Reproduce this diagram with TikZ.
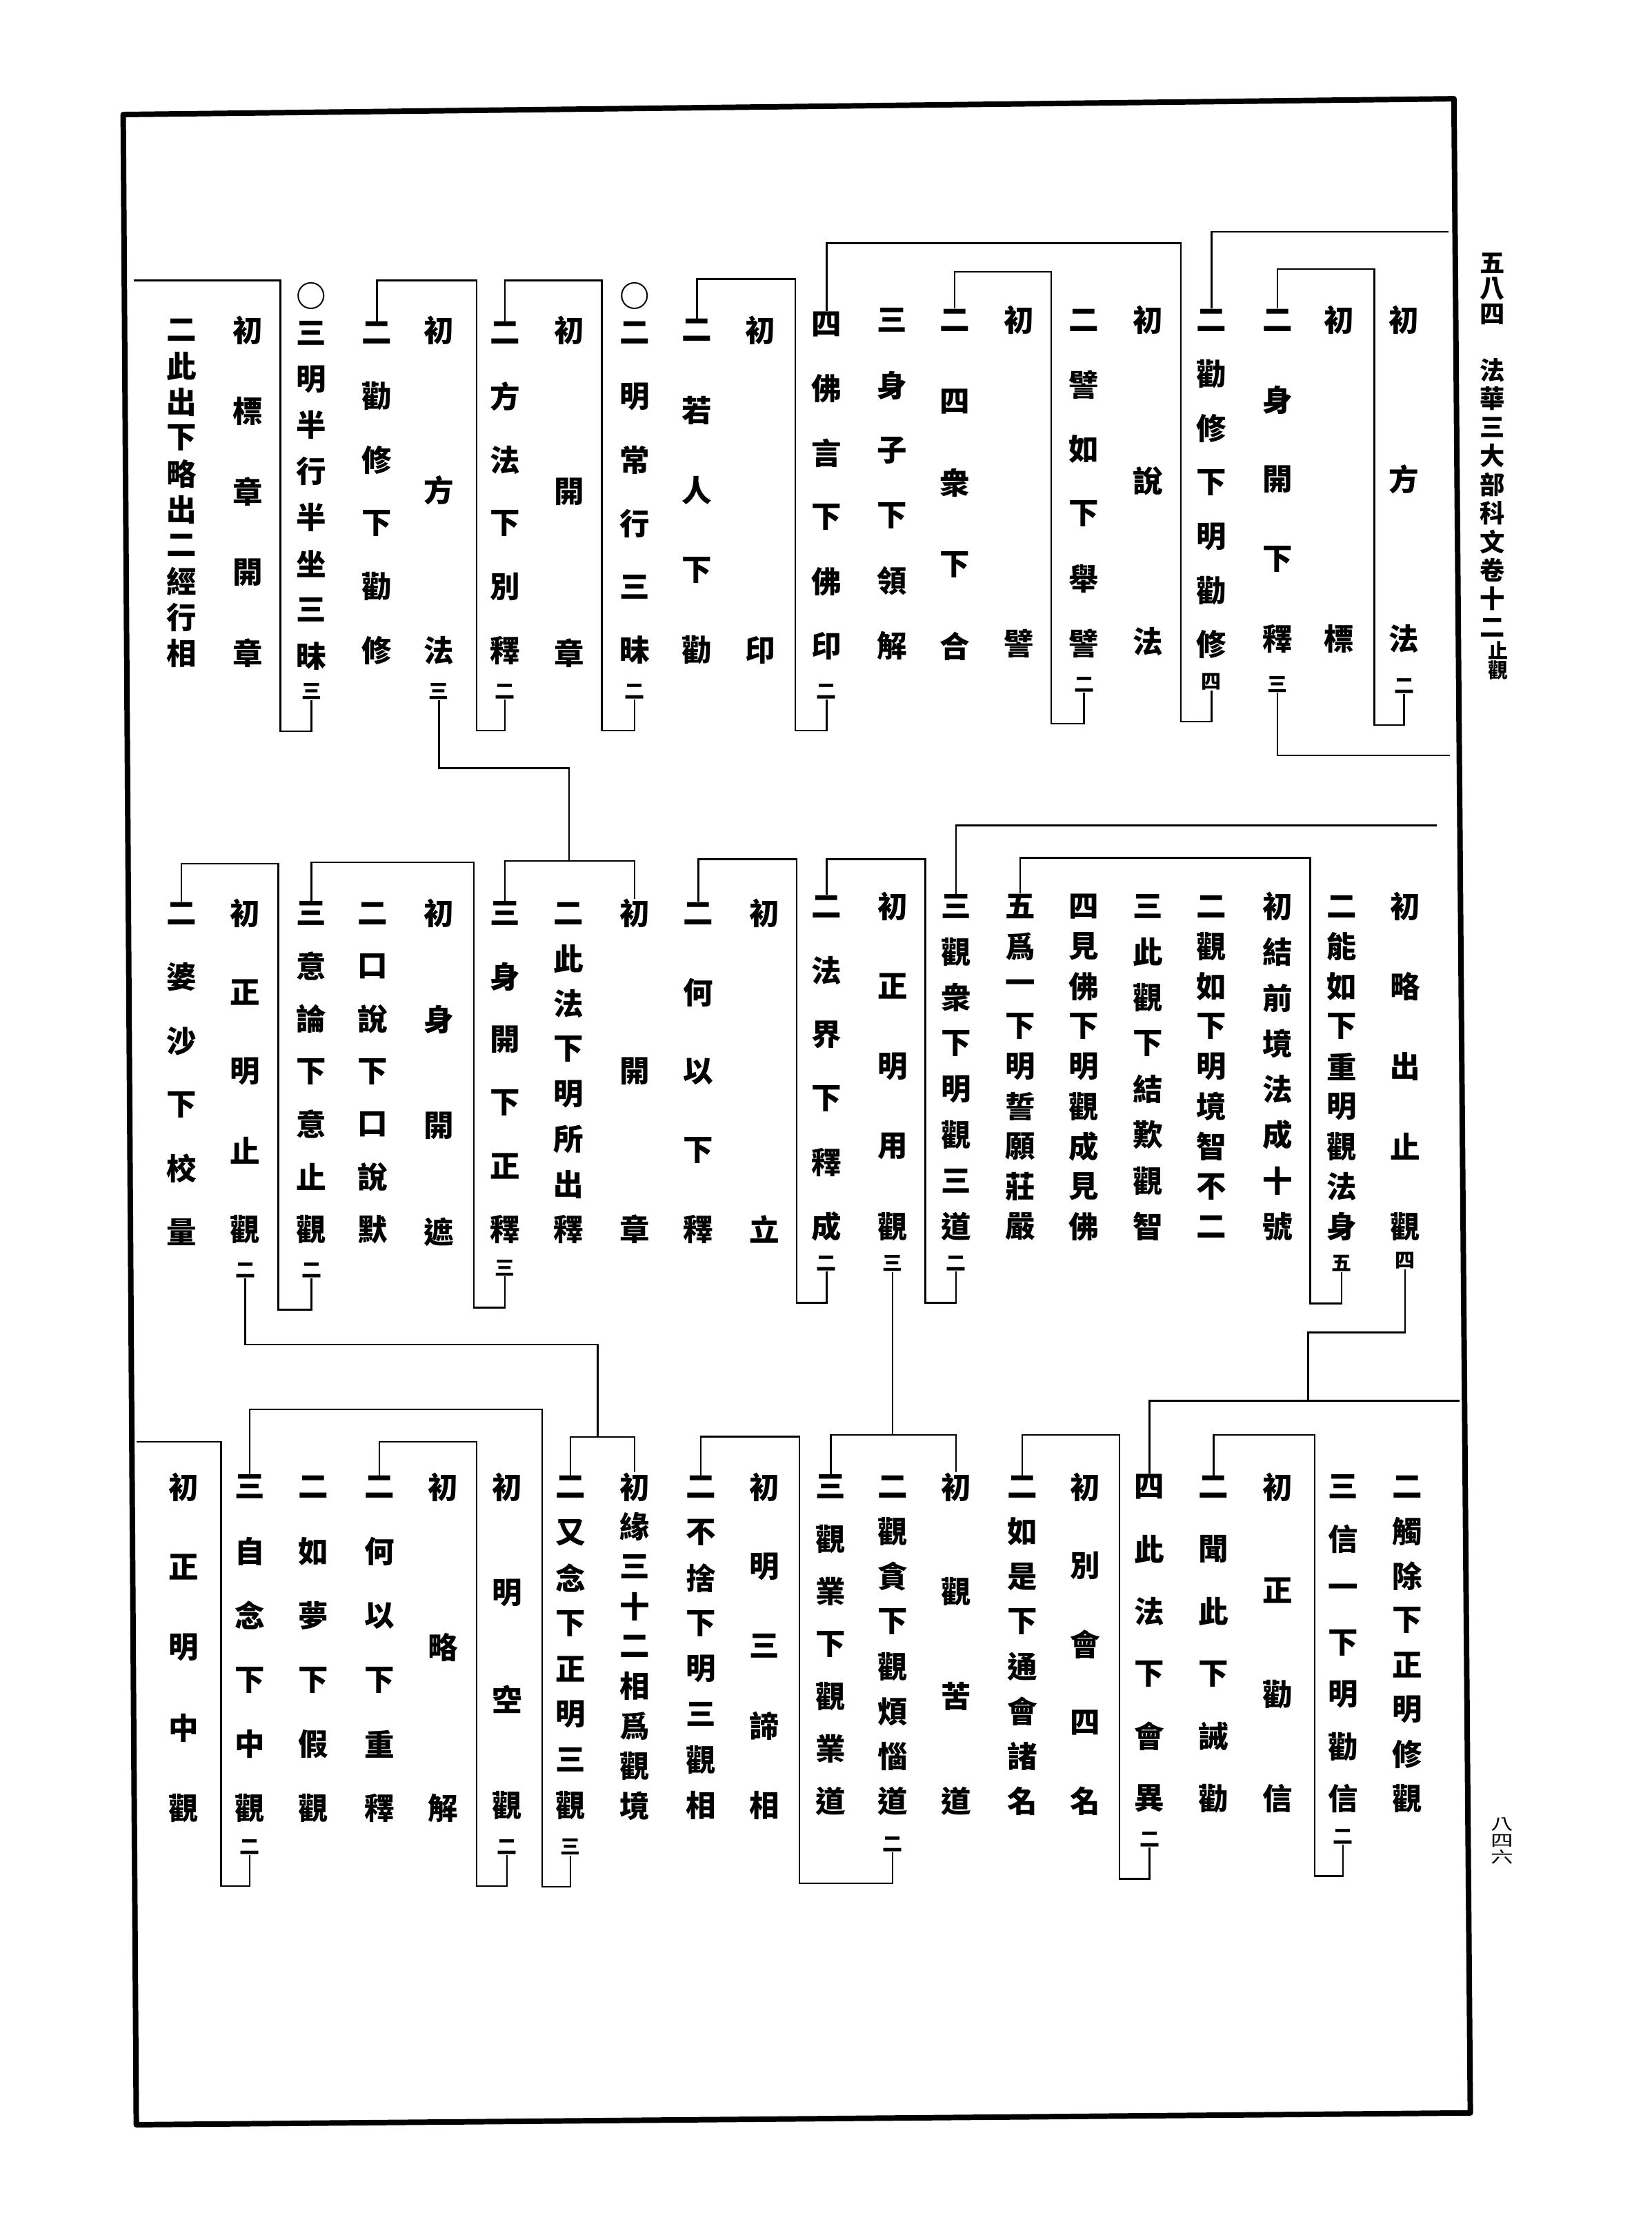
\documentclass[tikz,border=0pt]{standalone}
\usepackage{fontspec}
\newfontfamily\cjk{Noto Sans CJK TC}

\tikzset{
  kchar/.style={inner sep=0pt, font=\cjk\bfseries\fontsize{12}{12}\selectfont},
  ksuf/.style={inner sep=0pt, font=\cjk\bfseries\fontsize{8}{8}\selectfont},
  khead/.style={inner sep=0pt, font=\cjk\bfseries\fontsize{10}{10}\selectfont},
  khsmall/.style={inner sep=0pt, font=\cjk\bfseries\fontsize{8}{8}\selectfont},
  kpage/.style={inner sep=0pt, font=\cjk\fontsize{9}{9}\selectfont},
  kline/.style={line width=0.7pt},
  kframe/.style={line width=2.2pt, line join=round},
}

% one vertical column: [style]{name}{x}{top y}{bottom y}{chars}
\newcommand\kcol[6][kchar]{%
  \foreach \kc [count=\ki] in {#6} {\xdef\kn{\ki}}%
  \foreach \kc [count=\ki] in {#6} {%
    \pgfmathsetmacro\ky{#4+(#5-#4)*(\ki-1)/(\kn-1)}%
    \node[#1] (#2-\ki) at (#3,\ky) {\kc};%
  }%
}

\begin{document}
\begin{tikzpicture}[x=0.02cm,y=-0.02cm]
\useasboundingbox (0,0) rectangle (1161,1568);

% frame
\draw[kframe] (86.6,80.5) -- (1022,69.4) -- (1033.5,1485) -- (95.8,1493.3) -- cycle;

% header and page number
\kcol[khead]{h}{1049}{185}{221}{五,八,四}
\kcol[khead]{t}{1049}{260}{441}{法,華,三,大,部,科,文,卷,十,二}
\kcol[khsmall]{u}{1053}{457}{471}{止,觀}
\node[kpage] (p1) at (1056,1282) {\scalebox{1}[0.7]{八}};
\node[kpage] (p2) at (1056,1294) {\scalebox{1}[0.7]{四}};
\node[kpage] (p3) at (1056,1305) {\scalebox{1}[0.7]{六}};

% top band
\kcol{a1}{987}{225}{449}{初,方,法}
\node[ksuf] (a1n) at (987,482) {二};
\kcol{a2}{941}{225}{449}{初,標}
\kcol{a3}{898}{225}{449}{二,身,開,下,釋}
\node[ksuf] (a3n) at (898,481) {三};
\kcol{a4}{851.5}{225}{453}{二,勸,修,下,明,勸,修}
\node[ksuf] (a4n) at (851.5,479) {四};
\kcol{a5}{807}{225}{451}{初,說,法}
\kcol{a6}{762}{225}{452}{二,譬,如,下,舉,譬}
\node[ksuf] (a6n) at (762,481) {二};
\kcol{a7}{716}{225}{452}{初,譬}
\kcol{a8}{671}{225}{454}{二,四,衆,下,合}
\kcol{a9}{627}{225}{454}{三,身,子,下,領,解}
\kcol{a10}{581}{228}{454}{四,佛,言,下,佛,印}
\node[ksuf] (a10n) at (581,486) {二};
\kcol{a11}{534.5}{232}{457}{初,印}
\kcol{a12}{490}{232}{457}{二,若,人,下,勸}
\node[kchar] (a13o) at (446,208) {○};
\kcol{a13}{446}{234}{457}{二,明,常,行,三,昧}
\node[ksuf] (a13n) at (446,486) {二};
\kcol{a14}{400}{232}{459}{初,開,章}
\kcol{a15}{355}{234}{457}{二,方,法,下,別,釋}
\node[ksuf] (a15n) at (355,486) {二};
\kcol{a16}{308.5}{232}{457}{初,方,法}
\node[ksuf] (a16n) at (308.5,486) {三};
\kcol{a17}{265}{234}{457}{二,勸,修,下,勸,修}
\node[kchar] (a18o) at (219,208) {○};
\kcol{a18}{219}{234}{461}{三,明,半,行,半,坐,三,昧}
\node[ksuf] (a18n) at (219,486) {三};
\kcol{a19}{174}{232}{459}{初,標,章,開,章}
\kcol{a20}{127.5}{232}{459}{二,此,出,下,略,出,二,經,行,相}

% middle band
\kcol{b1}{987.6}{637}{862}{初,略,出,止,觀}
\node[ksuf] (b1n) at (987.6,886) {四};
\kcol{b2}{943}{637}{862}{二,能,如,下,重,明,觀,法,身}
\node[ksuf] (b2n) at (943,888) {五};
\kcol{b3}{898}{637}{862}{初,結,前,境,法,成,十,號}
\kcol{b4}{851.5}{637}{862}{二,觀,如,下,明,境,智,不,二}
\kcol{b5}{807}{637}{862}{三,此,觀,下,結,歎,觀,智}
\kcol{b6}{762}{637}{862}{四,見,佛,下,明,觀,成,見,佛}
\kcol{b7}{717}{637}{862}{五,爲,一,下,明,誓,願,莊,嚴}
\kcol{b8}{672}{637}{862}{三,觀,衆,下,明,觀,三,道}
\node[ksuf] (b8n) at (672,888) {二};
\kcol{b9}{627.3}{637}{862}{初,正,明,用,觀}
\node[ksuf] (b9n) at (627.3,888) {三};
\kcol{b10}{581}{637}{862}{二,法,界,下,釋,成}
\node[ksuf] (b10n) at (581,888) {二};
\kcol{b11}{537.4}{642}{864}{初,立}
\kcol{b12}{491}{642}{864}{二,何,以,下,釋}
\kcol{b13}{446}{642}{864}{初,開,章}
\kcol{b14}{399.7}{642}{864}{二,此,法,下,明,所,出,釋}
\kcol{b15}{355}{642}{864}{三,身,開,下,正,釋}
\node[ksuf] (b15n) at (355,891) {三};
\kcol{b16}{308.5}{642}{866}{初,身,開,遮}
\kcol{b17}{262}{642}{864}{二,口,說,下,口,說,默}
\kcol{b18}{219}{642}{864}{三,意,論,下,意,止,觀}
\node[ksuf] (b18n) at (219,893) {二};
\kcol{b19}{172.4}{642}{864}{初,正,明,止,觀}
\node[ksuf] (b19n) at (172.4,893) {二};
\kcol{b20}{127.5}{642}{866}{二,婆,沙,下,校,量}

% bottom band
\kcol{c1}{989}{1045}{1264}{二,觸,除,下,正,明,修,觀}
\kcol{c2}{944}{1045}{1264}{三,信,一,下,明,勸,信}
\node[ksuf] (c2n) at (944,1291) {二};
\kcol{c3}{898}{1045}{1264}{初,正,勸,信}
\kcol{c4}{853}{1045}{1264}{二,聞,此,下,誡,勸}
\kcol{c5}{808}{1045}{1264}{四,此,法,下,會,異}
\node[ksuf] (c5n) at (808,1293) {二};
\kcol{c6}{763}{1045}{1266}{初,別,會,四,名}
\kcol{c7}{718.5}{1045}{1266}{二,如,是,下,通,會,諸,名}
\kcol{c8}{672}{1045}{1266}{初,觀,苦,道}
\kcol{c9}{627.3}{1045}{1266}{二,觀,貪,下,觀,煩,惱,道}
\node[ksuf] (c9n) at (627.3,1296) {二};
\kcol{c10}{584}{1045}{1266}{三,觀,業,下,觀,業,道}
\kcol{c11}{537.4}{1045}{1269}{初,明,三,諦,相}
\kcol{c12}{492.5}{1045}{1269}{二,不,捨,下,明,三,觀,相}
\kcol{c13}{446}{1045}{1269}{初,緣,三,十,二,相,爲,觀,境}
\kcol{c14}{401}{1045}{1269}{二,又,念,下,正,明,三,觀}
\node[ksuf] (c14n) at (401,1298) {三};
\kcol{c15}{356.4}{1045}{1269}{初,明,空,觀}
\node[ksuf] (c15n) at (356.4,1298) {二};
\kcol{c16}{311.5}{1045}{1271}{初,略,解}
\kcol{c17}{266.7}{1045}{1271}{二,何,以,下,重,釋}
\kcol{c18}{220.3}{1045}{1271}{二,如,夢,下,假,觀}
\kcol{c19}{175.5}{1045}{1271}{三,自,念,下,中,觀}
\node[ksuf] (c19n) at (175.5,1298) {二};
\kcol{c20}{129}{1045}{1271}{初,正,明,中,觀}

% bracket corners
\coordinate (r1) at (1018,163);
\coordinate (k1) at (966,189);
\coordinate (k2) at (830,171);
\coordinate (k3) at (739,191);
\coordinate (k4) at (559,196);
\coordinate (r2) at (1019,531);
\coordinate (k5) at (423,197);
\coordinate (k6) at (335,197);
\coordinate (k7) at (197,197);
\coordinate (e1) at (94,197);
\coordinate (j1) at (400,540);
\coordinate (j1b) at (400,605);
\coordinate (r3) at (1010,580);
\coordinate (k8) at (921,603);
\coordinate (k9) at (650.5,604);
\coordinate (k10) at (560,604);
\coordinate (k11) at (333,606);
\coordinate (k12) at (195.6,607);
\coordinate (j2) at (919.6,936.6);
\coordinate (j2b) at (919.6,984.4);
\coordinate (j3) at (626,1008.5);
\coordinate (j4) at (420,945);
\coordinate (j4b) at (420,1010);
\coordinate (r4) at (1026,984.4);
\coordinate (k13) at (924,1008.5);
\coordinate (k14) at (787,1008.5);
\coordinate (k15) at (562,1009.8);
\coordinate (k16) at (381,990.5);
\coordinate (k17) at (335,1013.4);
\coordinate (k18) at (155.4,1013.4);
\coordinate (e2) at (96,1013.4);

% top band brackets
\draw[kline] (r1) -| (a4-1.north);
\draw[kline] (a1n.south) -- ++(0,22) -| (k1) -| (a3-1.north);
\draw[kline] (a4n.south) -- ++(0,22) -| (k2) -| (a10-1.north);
\draw[kline] (a6n.south) -- ++(0,22) -| (k3) -| (a8-1.north);
\draw[kline] (a10n.south) -- ++(0,22) -| (k4) -| (a12-1.north);
\draw[kline] (a3n.south) |- (r2);
\draw[kline] (a13n.south) -- ++(0,22) -| (k5) -| (a15-1.north);
\draw[kline] (a15n.south) -- ++(0,22) -| (k6) -| (a17-1.north);
\draw[kline] (a18n.south) -- ++(0,22) -| (k7) -- (e1);
\draw[kline] (a16n.south) |- (j1) -- (j1b);
\draw[kline] (b13-1.north) |- (j1b) -| (b15-1.north);

% middle band brackets
\draw[kline] (r3) -| (b8-1.north);
\draw[kline] (b2n.south) -- ++(0,22) -| (k8) -| (b7-1.north);
\draw[kline] (b8n.south) -- ++(0,22) -| (k9) -| (b10-1.north);
\draw[kline] (b10n.south) -- ++(0,22) -| (k10) -| (b12-1.north);
\draw[kline] (b15n.south) -- ++(0,22) -| (k11) -| (b18-1.north);
\draw[kline] (b18n.south) -- ++(0,22) -| (k12) -| (b20-1.north);
\draw[kline] (b1n.south) |- (j2) -- (j2b);
\draw[kline] (b9n.south) -- (b9n.south |- j3);
\draw[kline] (b19n.south) |- (j4) -- (j4b);

% bottom band brackets
\draw[kline] (r4) -| (c5-1.north);
\draw[kline] (c2n.south) -- ++(0,22) -| (k13) -| (c4-1.north);
\draw[kline] (c5n.south) -- ++(0,22) -| (k14) -| (c7-1.north);
\draw[kline] (c8-1.north) |- (j3) -| (c10-1.north);
\draw[kline] (c9n.south) -- ++(0,22) -| (k15) -| (c12-1.north);
\draw[kline] (c13-1.north) |- (j4b) -| (c14-1.north);
\draw[kline] (c14n.south) -- ++(0,22) -| (k16) -| (c19-1.north);
\draw[kline] (c15n.south) -- ++(0,22) -| (k17) -| (c17-1.north);
\draw[kline] (c19n.south) -- ++(0,22) -| (k18) -- (e2);
\end{tikzpicture}
\end{document}
